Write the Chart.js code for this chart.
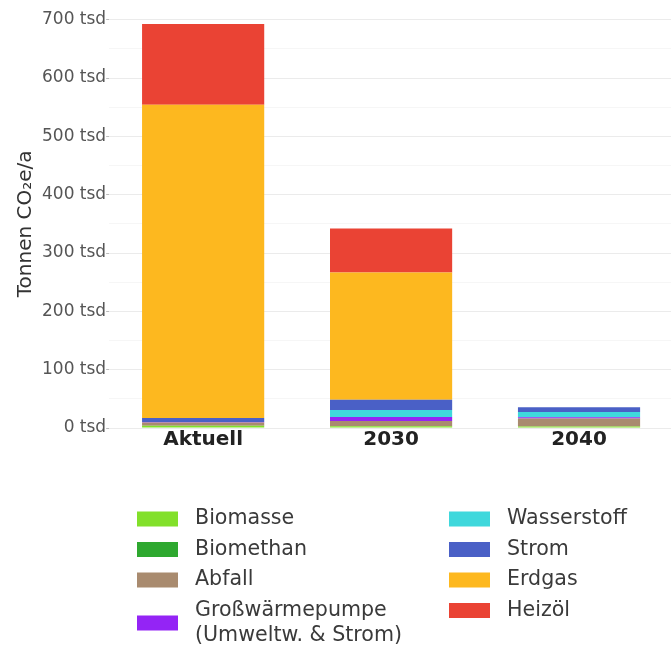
<!DOCTYPE html>
<html lang="de">
<head>
<meta charset="utf-8">
<title>Emissionen nach Energieträger</title>
<script src="https://cdn.jsdelivr.net/npm/chart.js@4"></script>
<style>
  html, body { margin: 0; padding: 0; background: #fff; overflow: hidden; }
  #wrap { width: 671px; height: 648px; overflow: hidden; }
</style>
</head>
<body>
<div id="wrap"><canvas id="myChart" width="673" height="648"></canvas></div>
<script>
// Werte in tausend Tonnen CO2e pro Jahr
const categories = ['Aktuell', '2030', '2040'];
const biomasse = [4, 3, 2.5];
const biomethan = [0, 0, 0];
const abfall = [5.5, 9, 14];
const grosswaermepumpe = [1, 7, 2];
const wasserstoff = [0, 12, 9];
const strom = [6.5, 17.5, 8];
const erdgas = [537, 218, 0];
const heizoel = [138.5, 75.5, 0];

const yMax = 700;
const yStep = 100;

Chart.defaults.font.family = "'DejaVu Sans', sans-serif";

let ctx = document.getElementById('myChart');

let series = [
    { label: 'Biomasse', data: biomasse, color: '#82e02a' },
    { label: 'Biomethan', data: biomethan, color: '#2ea82f' },
    { label: 'Abfall', data: abfall, color: '#a98b6f' },
    { label: 'Großwärmepumpe\n(Umweltw. & Strom)', data: grosswaermepumpe, color: '#9424f5' },
    { label: 'Wasserstoff', data: wasserstoff, color: '#3fd8dc' },
    { label: 'Strom', data: strom, color: '#4a60c6' },
    { label: 'Erdgas', data: erdgas, color: '#fdb81f' },
    { label: 'Heizöl', data: heizoel, color: '#ea4334' }
];

// Legende in zwei Spalten unter dem Diagramm
const legendBelow = {
    id: 'legendBelow',
    afterDraw(chart) {
        const c = chart.ctx;
        const sets = chart.data.datasets;
        const perCol = Math.ceil(sets.length / 2);
        const colX = [137, 449];
        const lineH = 25;
        c.save();
        c.font = "20.6px 'DejaVu Sans', sans-serif";
        c.textBaseline = 'middle';
        c.textAlign = 'left';
        sets.forEach((ds, i) => {
            const col = Math.floor(i / perCol);
            const row = i % perCol;
            const lines = ds.label.split('\n');
            let y = 519 + 30.5 * row;
            // mehrzeilige Einträge schieben die folgenden nach unten
            sets.slice(col * perCol, i).forEach(p => {
                y += (p.label.split('\n').length - 1) * lineH;
            });
            y += (lines.length - 1) * lineH / 2;
            const x = colX[col];
            c.fillStyle = ds.backgroundColor;
            c.fillRect(x, y - 7.5, 41, 15);
            c.fillStyle = '#3a3a3a';
            lines.forEach((t, k) => {
                c.fillText(t, x + 58, y + (k - (lines.length - 1) / 2) * lineH);
            });
        });
        c.restore();
    }
};

makeChart();

function makeChart() {
    const myChart = new Chart(ctx, {
        type: 'bar',
        data: {
            labels: categories,
            datasets: series.map(s => ({
                label: s.label,
                data: s.data,
                backgroundColor: s.color,
                borderWidth: 0,
                barPercentage: 0.65,
                categoryPercentage: 1
            }))
        },
        options: {
            responsive: false,
            animation: false,
            layout: {
                padding: { top: 19.7, left: 10, right: 0, bottom: 196 }
            },
            plugins: {
                legend: { display: false },
                tooltip: { enabled: false }
            },
            scales: {
                x: {
                    stacked: true,
                    grid: { display: false, drawTicks: false },
                    border: { display: false },
                    ticks: {
                        padding: 0,
                        color: '#222',
                        font: { size: 20, weight: 'bold' }
                    }
                },
                y: {
                    stacked: true,
                    min: 0,
                    max: yMax,
                    border: { display: false },
                    grid: {
                        tickLength: 3,
                        color: c => (c.tick && c.tick.value % yStep === 0) ? 'rgba(0,0,0,0.08)' : 'rgba(0,0,0,0.035)',
                        tickColor: c => (c.tick && c.tick.value % yStep === 0) ? '#bbbbbb' : 'rgba(0,0,0,0)'
                    },
                    ticks: {
                        stepSize: yStep / 2,
                        autoSkip: false,
                        padding: 0,
                        color: '#555',
                        font: { size: 17 },
                        callback: v => v % yStep === 0 ? v + ' tsd' : ''
                    },
                    title: {
                        display: true,
                        text: 'Tonnen CO₂e/a',
                        color: '#333',
                        font: { size: 20 },
                        padding: { top: 4, bottom: 4 }
                    }
                }
            }
        },
        plugins: [legendBelow]
    });
}
</script>
</body>
</html>
